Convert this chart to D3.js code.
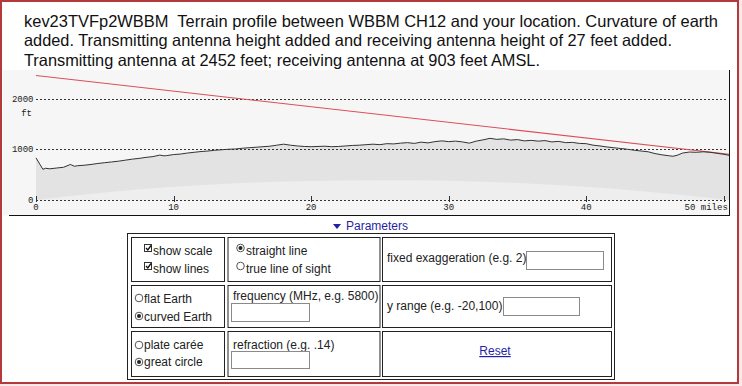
<!DOCTYPE html>
<html>
<head>
<meta charset="utf-8">
<script src="https://cdn.jsdelivr.net/npm/d3@7"></script>
<style>
  body { margin: 0; background: #fff; }
  svg { display: block; }
</style>
</head>
<body>
<svg id="page" width="742" height="386"></svg>
<script>
// heading text, one entry per line
var titleLines = [
    "kev23TVFp2WBBM  Terrain profile between WBBM CH12 and your location. Curvature of earth",
    "added. Transmitting antenna height added and receiving antenna height of 27 feet added.",
    "Transmitting antenna at 2452 feet; receiving antenna at 903 feet AMSL."
];

// terrain profile (curvature added)
var terrainMiles = [0, 0.5, 0.7, 1, 1.5, 2, 2.5, 2.8, 3, 3.5, 4, 4.5, 5, 5.5, 6, 6.5, 7, 7.5, 8, 8.5,
    9, 9.3, 9.5, 10, 10.5, 11, 11.5, 12, 12.5, 13, 13.5, 14, 14.5, 15, 15.5, 16, 16.5, 17, 17.5, 18,
    18.5, 19, 19.5, 20, 20.5, 21, 21.5, 22, 22.5, 23, 23.5, 24, 24.5, 25, 25.5, 26, 26.5, 27, 27.5, 28,
    28.5, 29, 29.5, 30, 30.5, 31, 31.5, 32, 32.5, 33, 33.5, 34, 34.5, 35, 35.5, 36, 36.5, 37, 37.5, 38,
    38.5, 39, 39.5, 40, 40.5, 41, 41.5, 42, 42.5, 43, 43.5, 44, 44.5, 45, 45.5, 46, 46.3, 46.6, 47, 47.5,
    48, 48.5, 49, 49.5, 50, 50.4];
var terrainFt = [830, 605, 625, 615, 630, 645, 700, 665, 675, 685, 700, 720, 735, 750, 765, 785, 805, 820, 840, 855,
    885, 870, 875, 895, 905, 925, 940, 955, 965, 980, 990, 1000, 1005, 1020, 1030, 1040, 1050, 1060, 1080, 1100,
    1080, 1065, 1055, 1050, 1055, 1060, 1050, 1055, 1065, 1075, 1080, 1090, 1100, 1090, 1110, 1105, 1120, 1130, 1115, 1140,
    1125, 1150, 1165, 1150, 1160, 1145, 1120, 1160, 1185, 1215, 1195, 1205, 1180, 1190, 1165, 1175, 1160, 1170, 1145, 1155,
    1130, 1135, 1115, 1110, 1080, 1065, 1045, 1030, 1015, 1000, 980, 965, 950, 915, 890, 872, 862, 880, 925, 945,
    940, 950, 940, 920, 900, 880];

// earth bulge under the profile
var bulgeMiles = [0, 2.5, 5, 7.5, 10, 12.5, 15, 17.5, 20, 22.5, 25, 27.5, 30, 32.5, 35, 37.5, 40, 42.5, 45, 47.5, 50.4];
var bulgeFt = [0, 80, 150, 210, 260, 300, 335, 360, 375, 385, 390, 388, 378, 360, 335, 300, 260, 210, 150, 85, 0];

// straight line transmitter -> receiver
var losMiles = [0, 50.4];
var losFt = [2452, 903];

var yTicks = [0, 1000, 2000];
var yTickLabels = ["0", "1000", "2000"];
var xTicks = [0, 10, 20, 30, 40, 50];
var xTickLabels = ["0", "10", "20", "30", "40", "50 miles"];

var svg = d3.select("#page");

// page frame
svg.append("rect").attr("x", 0).attr("y", 0).attr("width", 742).attr("height", 386).attr("fill", "#fbe9e9");
svg.append("rect").attr("x", 1).attr("y", 1).attr("width", 737).attr("height", 382)
    .attr("fill", "#fff").attr("stroke", "#b33a3a").attr("stroke-width", 2);

// title (line widths as measured on the original page)
var titleWidths = [694, 648, 516];
svg.append("g").selectAll("text")
    .data(titleLines)
    .enter().append("text")
    .attr("x", 24)
    .attr("y", function(d, i) { return 26.5 + i * 19.5; })
    .attr("font-family", "Liberation Sans, Arial, sans-serif")
    .attr("font-size", "16.5px")
    .attr("fill", "#111")
    .attr("textLength", function(d, i) { return titleWidths[i]; })
    .attr("lengthAdjust", "spacingAndGlyphs")
    .style("white-space", "pre")
    .text(function(d) { return d; });

// chart
var x = d3.scaleLinear().domain([0, 50]).range([36, 723.8]);
var y = d3.scaleLinear().domain([0, 2000]).range([200, 98.5]);

var chart = svg.append("g").attr("class", "profile");

chart.append("rect")
    .attr("x", 3).attr("y", 70).attr("width", 726.5).attr("height", 145.5)
    .attr("fill", "#f6f6f6");

var terrain = terrainMiles.map(function(m, i) { return [m, terrainFt[i]]; });
var bulge = bulgeMiles.map(function(m, i) { return [m, bulgeFt[i]]; });

chart.append("path")
    .datum(terrain)
    .attr("fill", "#e3e3e3")
    .attr("d", d3.area().x(function(d) { return x(d[0]); }).y0(y(0)).y1(function(d) { return y(d[1]); }));

chart.append("path")
    .datum(bulge)
    .attr("fill", "#eeeeee")
    .attr("d", d3.area().x(function(d) { return x(d[0]); }).y0(y(0)).y1(function(d) { return y(d[1]); }));

// dashed grid
chart.selectAll(".grid")
    .data(yTicks)
    .enter().append("line")
    .attr("class", "grid")
    .attr("x1", x(0)).attr("x2", 728)
    .attr("y1", function(d) { return Math.round(y(d)) + 0.5; })
    .attr("y2", function(d) { return Math.round(y(d)) + 0.5; })
    .attr("stroke", "#333")
    .attr("stroke-dasharray", "2,2");

chart.selectAll(".ylab")
    .data(yTicks)
    .enter().append("text")
    .attr("class", "ylab")
    .attr("x", 33.5)
    .attr("y", function(d) { return y(d) + 3; })
    .attr("text-anchor", "end")
    .attr("font-family", "Liberation Mono, DejaVu Sans Mono, monospace")
    .attr("font-size", "9px")
    .attr("fill", "#222")
    .text(function(d, i) { return yTickLabels[i]; });

chart.append("text")
    .attr("x", 32).attr("y", 116)
    .attr("text-anchor", "end")
    .attr("font-family", "Liberation Mono, DejaVu Sans Mono, monospace")
    .attr("font-size", "9px")
    .attr("fill", "#222")
    .text("ft");

// x ticks on the zero line
chart.selectAll(".xtick")
    .data(xTicks)
    .enter().append("line")
    .attr("class", "xtick")
    .attr("x1", function(d) { return Math.round(x(d)) + 0.5; })
    .attr("x2", function(d) { return Math.round(x(d)) + 0.5; })
    .attr("y1", 196).attr("y2", 202)
    .attr("stroke", "#333");

chart.selectAll(".xlab")
    .data(xTicks)
    .enter().append("text")
    .attr("class", "xlab")
    .attr("x", function(d, i) { return i == xTicks.length - 1 ? x(d) + 4 : x(d); })
    .attr("y", 210)
    .attr("text-anchor", function(d, i) { return i == xTicks.length - 1 ? "end" : "middle"; })
    .attr("font-family", "Liberation Mono, DejaVu Sans Mono, monospace")
    .attr("font-size", "9px")
    .attr("fill", "#222")
    .text(function(d, i) { return xTickLabels[i]; });

var line = d3.line().x(function(d) { return x(d[0]); }).y(function(d) { return y(d[1]); });

chart.append("path")
    .datum(losMiles.map(function(m, i) { return [m, losFt[i]]; }))
    .attr("fill", "none")
    .attr("stroke", "#d9505a")
    .attr("stroke-width", 1.1)
    .attr("d", line);

chart.append("path")
    .datum(terrain)
    .attr("fill", "none")
    .attr("stroke", "#333")
    .attr("stroke-width", 1)
    .attr("d", line);

// chart frame: right and bottom edges
chart.append("line").attr("x1", 729.5).attr("x2", 729.5).attr("y1", 70).attr("y2", 216).attr("stroke", "#111");
chart.append("line").attr("x1", 9).attr("x2", 730).attr("y1", 215.5).attr("y2", 215.5).attr("stroke", "#111");

// parameters link
var linkColor = "#1f1fa8";
svg.append("path")
    .attr("d", "M333,224 L341,224 L337,229 Z")
    .attr("fill", linkColor);
svg.append("text")
    .attr("x", 346).attr("y", 230)
    .attr("font-family", "Liberation Sans, Arial, sans-serif")
    .attr("font-size", "12px")
    .attr("fill", linkColor)
    .text("Parameters");

// parameter table
var colEdges = [[131, 224], [227.5, 379.5], [382, 611]];
var rowEdges = [[237, 281], [285, 327], [331, 376]];

var table = svg.append("g").attr("class", "params");
table.append("rect")
    .attr("x", 127.5).attr("y", 233.5).attr("width", 487).attr("height", 146)
    .attr("fill", "none").attr("stroke", "#222");

rowEdges.forEach(function(r) {
    colEdges.forEach(function(c) {
        table.append("rect")
            .attr("x", c[0] + 0.5).attr("y", r[0] + 0.5)
            .attr("width", c[1] - c[0]).attr("height", r[1] - r[0])
            .attr("fill", "none").attr("stroke", "#222");
    });
});

function label(tx, ty, s) {
    return table.append("text")
        .attr("x", tx).attr("y", ty)
        .attr("font-family", "Liberation Sans, Arial, sans-serif")
        .attr("font-size", "12px")
        .attr("fill", "#222")
        .text(s);
}

function checkbox(cx, cy) {
    table.append("rect").attr("x", cx + 0.5).attr("y", cy + 0.5).attr("width", 7).attr("height", 7)
        .attr("fill", "#fff").attr("stroke", "#333");
    table.append("path").attr("d", "M" + (cx + 2) + "," + (cy + 4) + " l1.8,2 l3.2,-4.5")
        .attr("fill", "none").attr("stroke", "#111").attr("stroke-width", 1.3);
}

function radio(cx, cy, on) {
    table.append("circle").attr("cx", cx).attr("cy", cy).attr("r", 3.8)
        .attr("fill", "#fff").attr("stroke", "#555");
    if (on) table.append("circle").attr("cx", cx).attr("cy", cy).attr("r", 2).attr("fill", "#222");
}

function inputBox(bx, by, bw, bh) {
    table.append("rect").attr("x", bx + 0.5).attr("y", by + 0.5).attr("width", bw).attr("height", bh)
        .attr("fill", "#fff").attr("stroke", "#8a8a8a");
}

checkbox(144, 244); label(153, 255, "show scale");
checkbox(144, 262); label(153, 273, "show lines");

radio(240.5, 248, true); label(246, 255, "straight line");
radio(240.5, 266, false); label(246, 273, "true line of sight");

label(387, 262, "fixed exaggeration (e.g. 2)");
inputBox(526, 251, 77, 18);

radio(139, 298, false); label(144, 302.5, "flat Earth");
radio(139, 316, true); label(144, 320.5, "curved Earth");

label(233, 300, "frequency (MHz, e.g. 5800)");
inputBox(231, 303, 78, 18);

label(387, 309.5, "y range (e.g. -20,100)");
inputBox(503, 297, 76, 18);

radio(139, 345, false); label(144, 349, "plate carée");
radio(139, 362, true); label(144, 366, "great circle");

label(233, 348.5, "refraction (e.g. .14)");
inputBox(231, 351, 78, 17);

label(495, 355, "Reset")
    .attr("text-anchor", "middle")
    .attr("fill", linkColor)
    .attr("text-decoration", "underline");
</script>
</body>
</html>
